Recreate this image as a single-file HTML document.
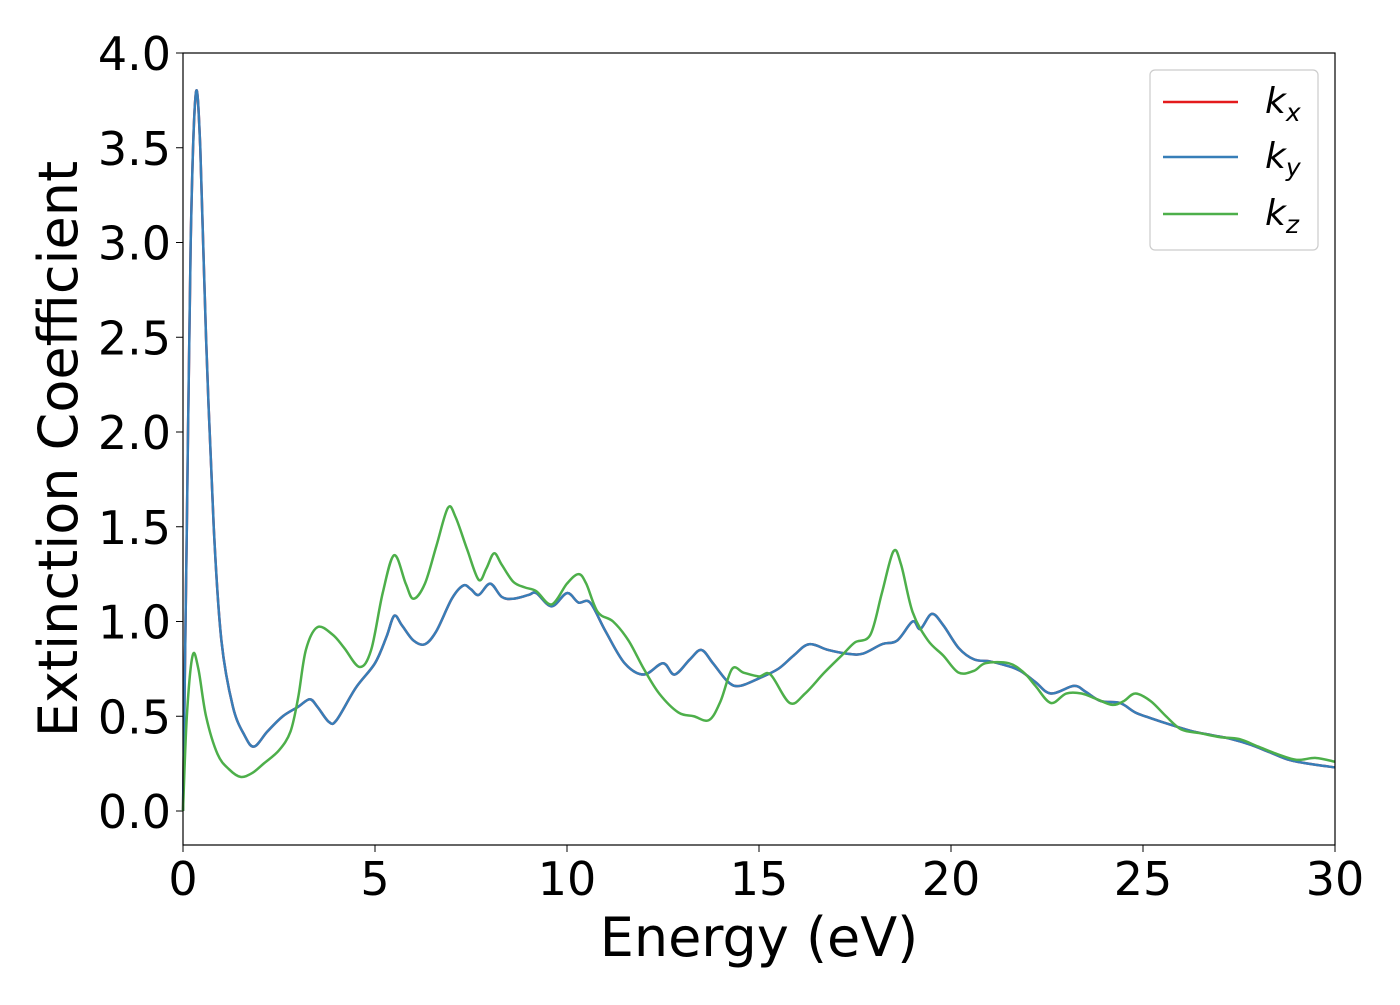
<!DOCTYPE html>
<html><head><meta charset="utf-8"><style>
html,body{margin:0;padding:0;background:#fff;}
svg text{font-family:"DejaVu Sans","Liberation Sans",sans-serif;fill:#000;}
</style></head><body>
<svg id="chart" width="1400" height="1000" xmlns="http://www.w3.org/2000/svg">
<g id="ticks"></g>
<g id="series"></g>
<rect x="183" y="53" width="1152" height="792" fill="none" stroke="#000" stroke-width="1.2"/>
<text x="759" y="956" font-size="54" text-anchor="middle">Energy (eV)</text>
<text transform="translate(77,449) rotate(-90)" font-size="54" text-anchor="middle">Extinction Coefficient</text>
<g>
<rect x="1150" y="70" width="168" height="180" rx="5" fill="#fff" stroke="#ccc" stroke-width="1.2"/>
<line x1="1163" y1="102" x2="1238" y2="102" stroke="#e41a1c" stroke-width="2.5"/>
<text x="1265" y="113" font-size="36" font-style="italic">k<tspan font-size="25" dy="8">x</tspan></text>
<line x1="1163" y1="157" x2="1238" y2="157" stroke="#377eb8" stroke-width="2.5"/>
<text x="1265" y="168" font-size="36" font-style="italic">k<tspan font-size="25" dy="8">y</tspan></text>
<line x1="1163" y1="214" x2="1238" y2="214" stroke="#4daf4a" stroke-width="2.5"/>
<text x="1265" y="225" font-size="36" font-style="italic">k<tspan font-size="25" dy="8">z</tspan></text>
</g>
</svg>
<script>
const xTicks=[0,5,10,15,20,25,30];
const yTicks=["0.0","0.5","1.0","1.5","2.0","2.5","3.0","3.5","4.0"];
const kxyE=[0,0.1,0.2,0.33,0.45,0.6,0.8,1.0,1.3,1.6,1.85,2.2,2.6,3.0,3.3,3.5,3.8,4.0,4.5,5.0,5.3,5.5,5.7,6.0,6.3,6.6,7.0,7.3,7.5,7.7,8.0,8.3,8.6,9.0,9.2,9.6,10.0,10.3,10.6,11.0,11.5,12.0,12.5,12.8,13.2,13.5,13.8,14.2,14.5,15.0,15.5,15.9,16.3,16.8,17.3,17.7,18.2,18.6,19.0,19.2,19.5,19.8,20.2,20.6,21.0,21.4,21.8,22.2,22.6,23.2,23.5,23.9,24.4,24.8,25.2,25.8,26.3,26.8,27.3,27.8,28.3,28.8,29.3,30];
const kxyV=[0,1.5,3.0,3.78,3.5,2.5,1.5,0.9,0.55,0.4,0.34,0.42,0.5,0.55,0.59,0.55,0.47,0.48,0.65,0.78,0.92,1.03,0.98,0.9,0.88,0.95,1.12,1.19,1.17,1.14,1.2,1.13,1.12,1.14,1.15,1.08,1.15,1.1,1.1,0.95,0.78,0.72,0.78,0.72,0.8,0.85,0.78,0.68,0.66,0.7,0.75,0.82,0.88,0.85,0.83,0.83,0.88,0.9,1.0,0.96,1.04,0.98,0.86,0.8,0.79,0.77,0.74,0.68,0.62,0.66,0.63,0.58,0.57,0.52,0.49,0.45,0.42,0.4,0.38,0.35,0.31,0.27,0.25,0.23];
const kzE=[0,0.1,0.25,0.4,0.6,0.9,1.2,1.5,1.8,2.1,2.5,2.8,3.0,3.2,3.5,3.9,4.2,4.6,4.9,5.2,5.5,5.8,6.0,6.3,6.6,6.9,7.1,7.4,7.7,7.9,8.1,8.3,8.6,8.9,9.2,9.6,10.0,10.3,10.5,10.8,11.2,11.6,12.0,12.4,12.9,13.3,13.7,14.0,14.3,14.6,15.0,15.3,15.8,16.2,16.7,17.2,17.5,17.9,18.2,18.5,18.7,19.0,19.4,19.8,20.2,20.6,20.9,21.5,21.9,22.2,22.6,23.0,23.4,23.8,24.2,24.5,24.8,25.2,25.6,26.0,26.5,27.0,27.5,28.0,28.5,29.0,29.5,30];
const kzV=[0,0.5,0.82,0.75,0.5,0.3,0.22,0.18,0.2,0.25,0.32,0.42,0.6,0.85,0.97,0.93,0.86,0.76,0.85,1.15,1.35,1.2,1.12,1.2,1.4,1.6,1.55,1.38,1.22,1.28,1.36,1.3,1.21,1.18,1.16,1.09,1.2,1.25,1.2,1.05,1.0,0.9,0.75,0.62,0.52,0.5,0.48,0.58,0.75,0.73,0.71,0.72,0.57,0.62,0.73,0.83,0.89,0.93,1.15,1.37,1.3,1.05,0.9,0.82,0.73,0.74,0.78,0.78,0.73,0.66,0.57,0.62,0.62,0.59,0.56,0.58,0.62,0.58,0.5,0.43,0.41,0.39,0.38,0.34,0.3,0.27,0.28,0.26];
const X0=183,X1=1335,Y0=811,Y4=53;
const sx=v=>X0+(v-0)/(30-0)*(X1-X0);
const sy=v=>Y0+(v-0)/(4-0)*(Y4-Y0);
const NS="http://www.w3.org/2000/svg";
const tg=document.getElementById('ticks');
xTicks.forEach(t=>{
 const l=document.createElementNS(NS,'line');
 
 
 l.setAttribute('x1',sx(t));l.setAttribute('x2',sx(t));l.setAttribute('y1',845);l.setAttribute('y2',852);l.setAttribute('stroke','#000');
 tg.appendChild(l);
 const tx=document.createElementNS(NS,'text');
 
 
 tx.setAttribute('x',sx(t));tx.setAttribute('y',895);tx.setAttribute('font-size','46');tx.setAttribute('text-anchor','middle');
 tx.textContent=t;tg.appendChild(tx);
});
yTicks.forEach(t=>{
 const v=parseFloat(t);
 const l=document.createElementNS(NS,'line');
 
 
 l.setAttribute('x1',176);l.setAttribute('x2',183);l.setAttribute('y1',sy(v));l.setAttribute('y2',sy(v));l.setAttribute('stroke','#000');
 tg.appendChild(l);
 const tx=document.createElementNS(NS,'text');
 
 
 tx.setAttribute('x',171);tx.setAttribute('y',sy(v)+17);tx.setAttribute('font-size','46');tx.setAttribute('text-anchor','end');
 tx.textContent=t;tg.appendChild(tx);
});
function pathFor(E,V){
 const p=E.map((e,i)=>[sx(e),sy(V[i])]);
 let d='M'+p[0][0]+','+p[0][1];
 for(let i=0;i<p.length-1;i++){
  const a=p[Math.max(0,i-1)],b=p[i],c=p[i+1],e=p[Math.min(p.length-1,i+2)];
  const c1=[b[0]+(c[0]-a[0])/6,b[1]+(c[1]-a[1])/6],c2=[c[0]-(e[0]-b[0])/6,c[1]-(e[1]-b[1])/6];
  d+=' C'+c1+' '+c2+' '+c;
 }
 return d;
}
const sg=document.getElementById('series');
function addLine(E,V,color,name){
 const el=document.createElementNS(NS,'path');
 
 
 el.setAttribute('d',pathFor(E,V));el.setAttribute('fill','none');el.setAttribute('stroke',color);el.setAttribute('stroke-width','2.5');
 sg.appendChild(el);
}
addLine(kxyE,kxyV,'#e41a1c','kx-line');
addLine(kxyE,kxyV,'#377eb8','ky-line');
addLine(kzE,kzV,'#4daf4a','kz-line');
</script>
</body></html>
